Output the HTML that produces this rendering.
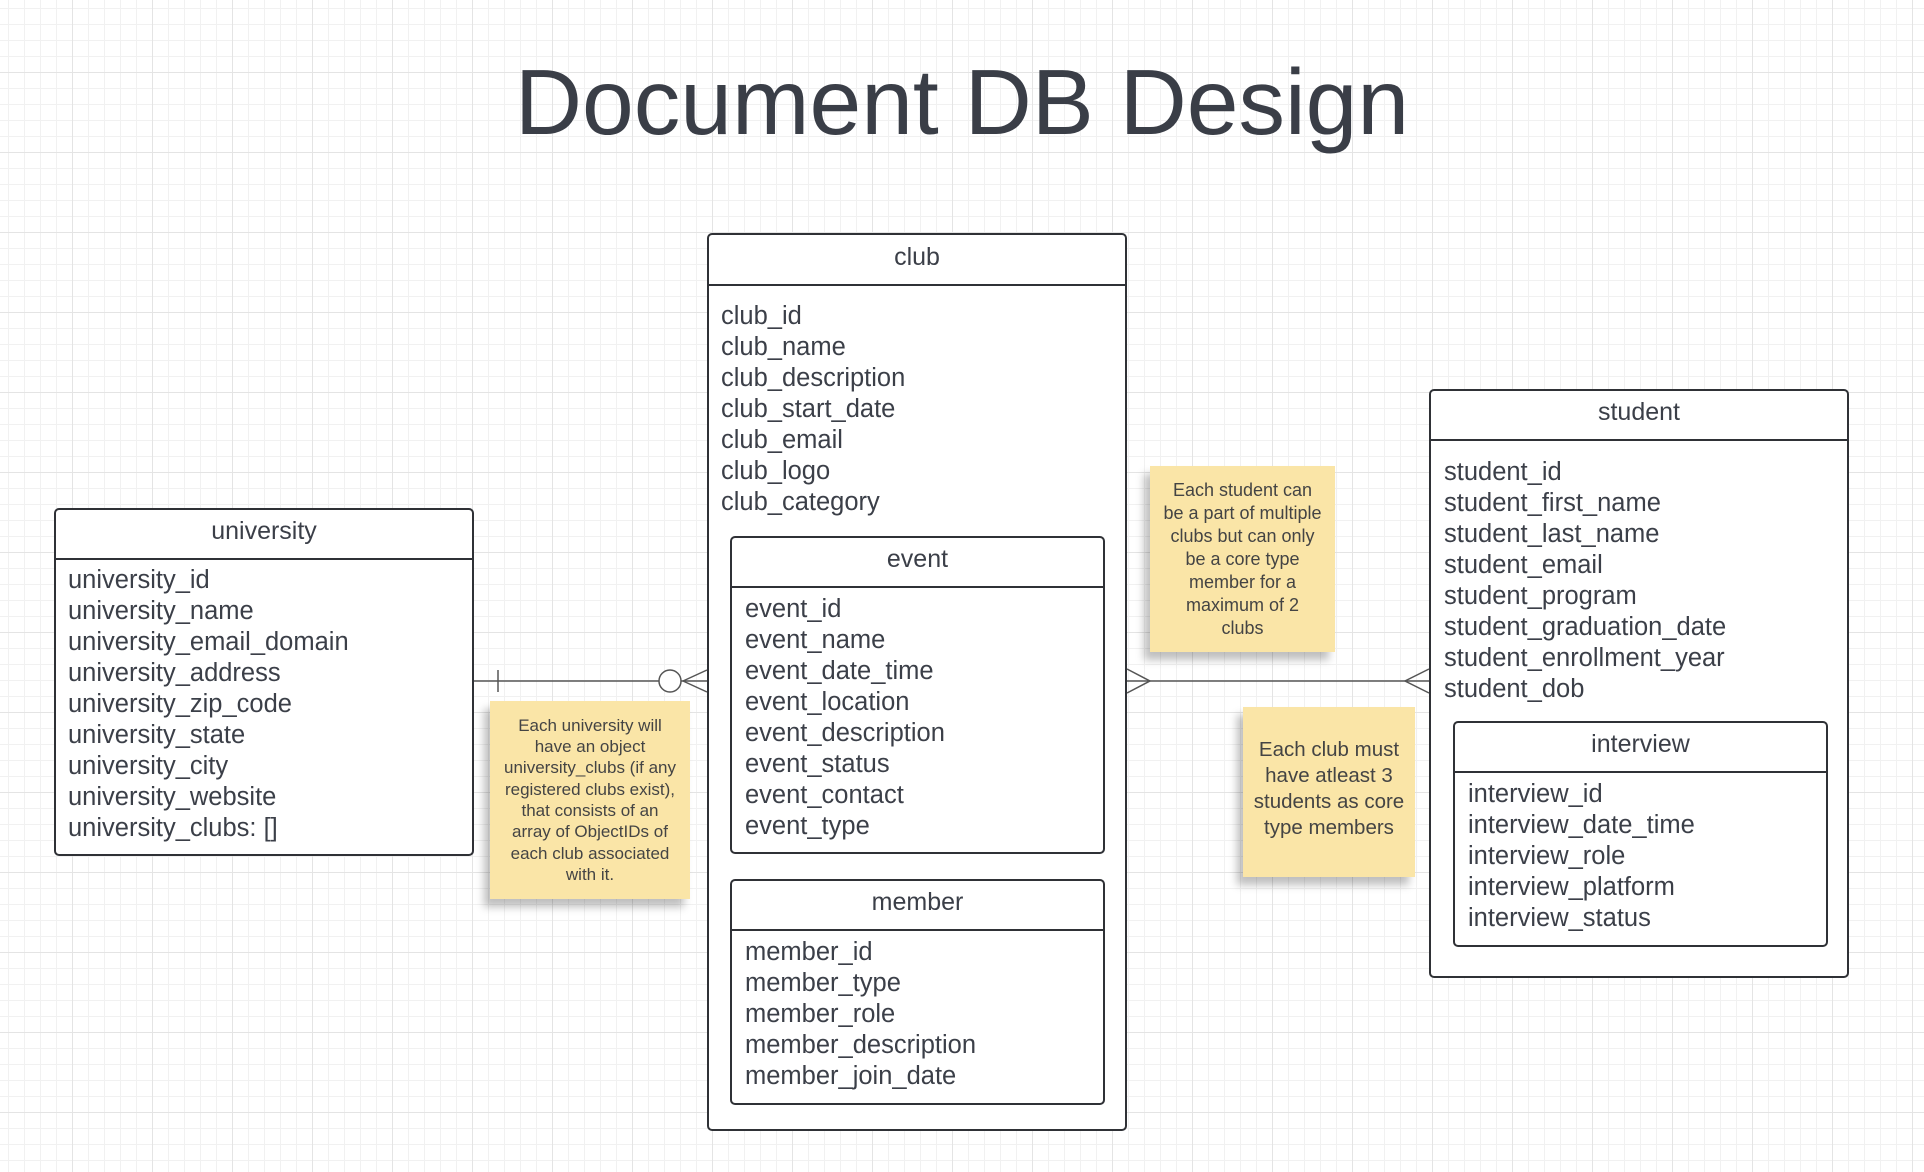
<!DOCTYPE html>
<html><head><meta charset="utf-8"><style>
body{margin:0;width:1924px;height:1172px;position:relative;overflow:hidden;font-family:"Liberation Sans",sans-serif;color:#3b3f48;
background-color:#fff;
background-image:linear-gradient(#e4e4e4 1px,transparent 1px),linear-gradient(90deg,#e4e4e4 1px,transparent 1px),linear-gradient(#f1f1f1 1px,transparent 1px),linear-gradient(90deg,#f1f1f1 1px,transparent 1px);
background-size:80px 80px,80px 80px,16px 16px,16px 16px;background-position:-8px -8px}
.t{position:absolute;left:0;width:1924px;top:50px;text-align:center;font-size:93px;line-height:104px;color:#3a3e47}
.box{position:absolute;border:2px solid #2f3136;border-radius:5px;background:#fff;box-sizing:border-box}
.h{position:absolute;left:0;right:0;top:0;border-bottom:2px solid #2f3136;text-align:center;font-size:25px;box-sizing:border-box}
.f{position:absolute;font-size:25.5px;line-height:31px;white-space:pre}
.n{position:absolute;background:#fae5a7;text-align:center;box-shadow:-6px 8px 8px rgba(0,0,0,.25);box-sizing:border-box;display:flex;align-items:center;justify-content:center;color:#444}
</style></head><body>
<div class="t">Document DB Design</div>

<div class="box" style="left:54px;top:508px;width:420px;height:348px"><div class="h" style="height:50px;line-height:42px">university</div>
<div class="f" style="left:12px;top:55px">university_id
university_name
university_email_domain
university_address
university_zip_code
university_state
university_city
university_website
university_clubs: []</div></div>

<div class="box" style="left:707px;top:233px;width:420px;height:898px"><div class="h" style="height:51px;line-height:44px">club</div>
<div class="f" style="left:12px;top:66px">club_id
club_name
club_description
club_start_date
club_email
club_logo
club_category</div>
<div class="box" style="left:21px;top:301px;width:375px;height:318px"><div class="h" style="height:50px;line-height:42px">event</div>
<div class="f" style="left:13px;top:56px">event_id
event_name
event_date_time
event_location
event_description
event_status
event_contact
event_type</div></div>
<div class="box" style="left:21px;top:644px;width:375px;height:226px"><div class="h" style="height:50px;line-height:42px">member</div>
<div class="f" style="left:13px;top:56px">member_id
member_type
member_role
member_description
member_join_date</div></div>
</div>

<div class="box" style="left:1429px;top:389px;width:420px;height:589px"><div class="h" style="height:50px;line-height:42px">student</div>
<div class="f" style="left:13px;top:66px">student_id
student_first_name
student_last_name
student_email
student_program
student_graduation_date
student_enrollment_year
student_dob</div>
<div class="box" style="left:22px;top:330px;width:375px;height:226px"><div class="h" style="height:50px;line-height:42px">interview</div>
<div class="f" style="left:13px;top:56px">interview_id
interview_date_time
interview_role
interview_platform
interview_status</div></div>
</div>

<svg style="position:absolute;left:0;top:0" width="1924" height="1172">
<g stroke="#555" stroke-width="1.5" fill="none">
<line x1="474" y1="681" x2="659" y2="681"/>
<line x1="498" y1="670" x2="498" y2="692"/>
<circle cx="670" cy="681" r="11" fill="#fff"/>
<line x1="681" y1="681" x2="707" y2="681"/>
<line x1="683" y1="681" x2="707" y2="670"/>
<line x1="683" y1="681" x2="707" y2="692"/>
<line x1="1127" y1="681" x2="1429" y2="681"/>
<polyline points="1127,669 1150,681 1127,693"/>
<polyline points="1429,669 1405,681 1429,693"/>
</g></svg>

<div class="n" style="left:490px;top:701px;width:200px;height:198px;font-size:17px;line-height:21.3px">Each university will<br>have an object<br>university_clubs (if any<br>registered clubs exist),<br>that consists of an<br>array of ObjectIDs of<br>each club associated<br>with it.</div>
<div class="n" style="left:1150px;top:466px;width:185px;height:186px;font-size:18px;line-height:23px">Each student can<br>be a part of multiple<br>clubs but can only<br>be a core type<br>member for a<br>maximum of 2<br>clubs</div>
<div class="n" style="left:1243px;top:707px;width:172px;height:170px;font-size:20.5px;line-height:26px;padding-bottom:6px">Each club must<br>have atleast 3<br>students as core<br>type members</div>
</body></html>
